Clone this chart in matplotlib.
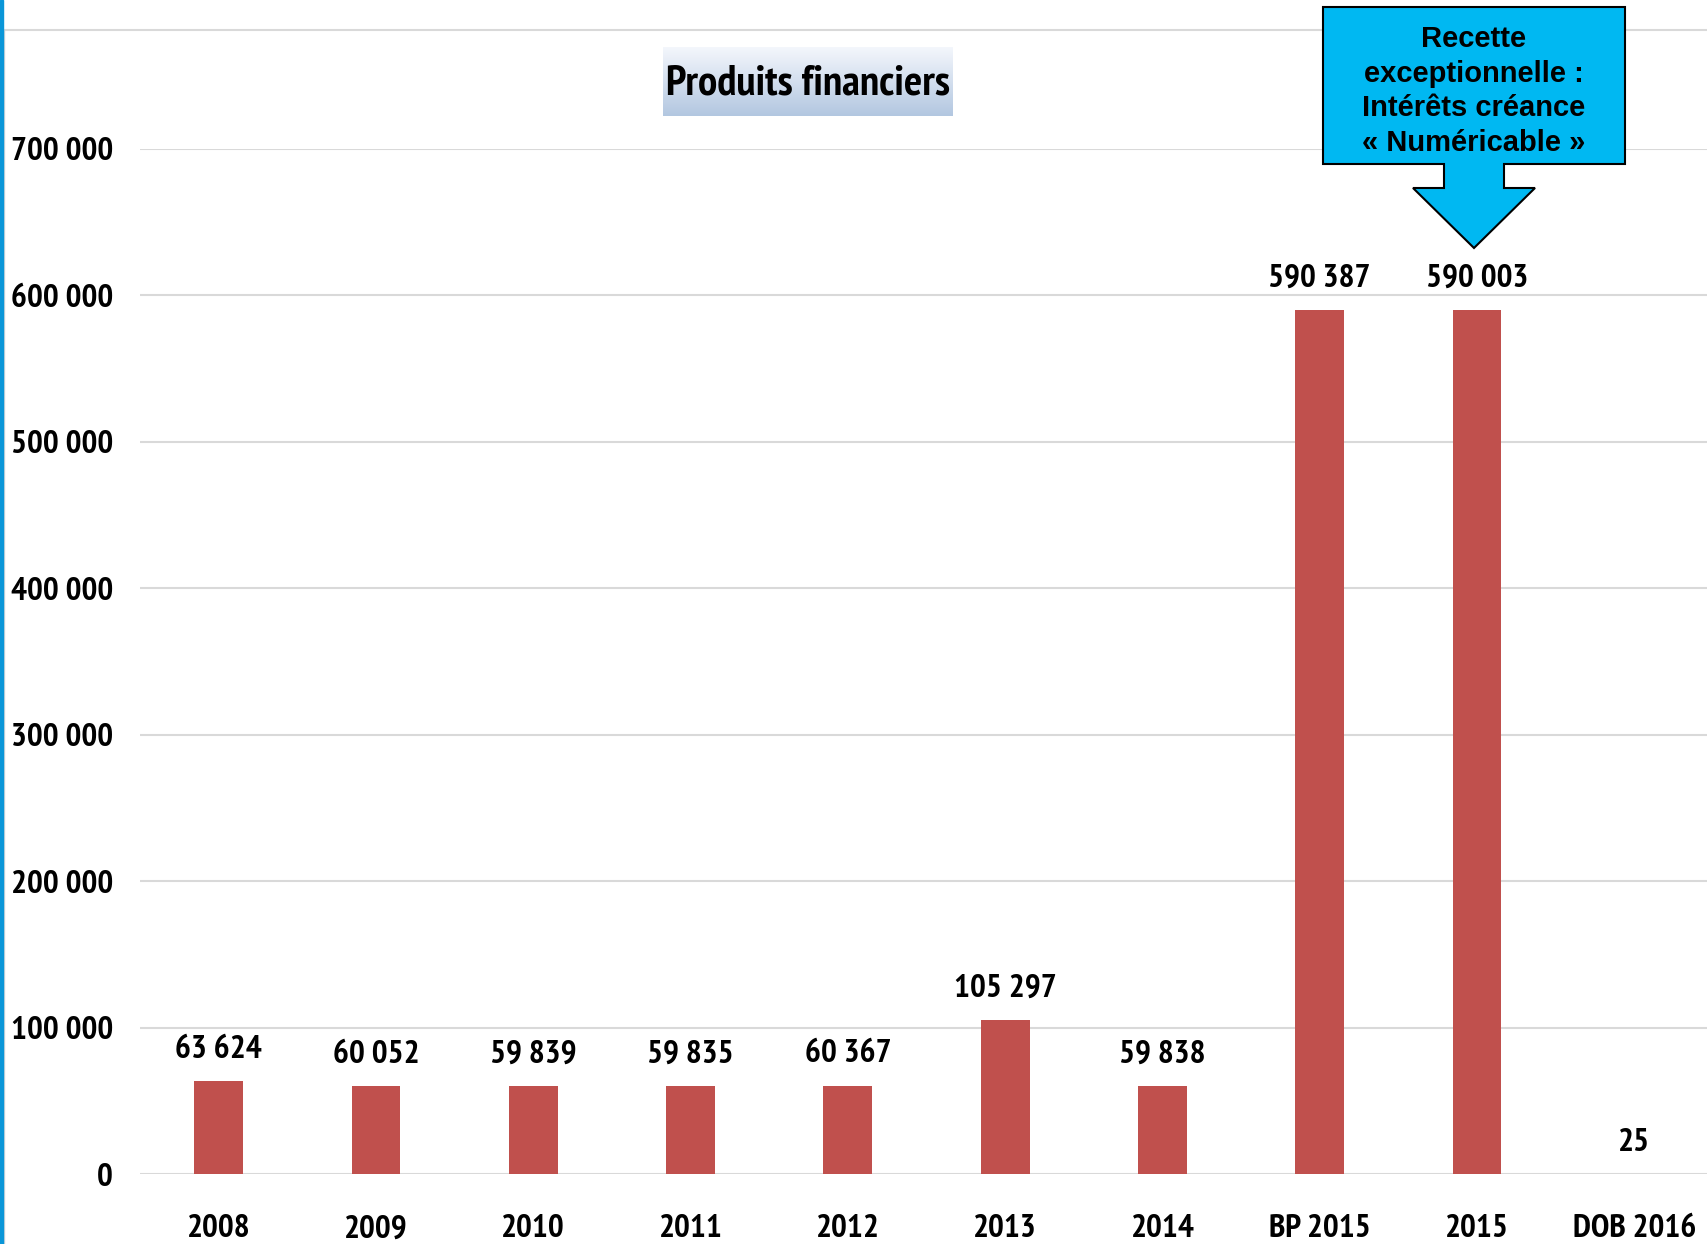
import numpy as np
import matplotlib.pyplot as plt
from matplotlib.patches import Polygon, Rectangle
from matplotlib.lines import Line2D

# Produits financiers par exercice
categories = ["2008", "2009", "2010", "2011", "2012", "2013", "2014", "BP 2015", "2015", "DOB 2016"]
values = [63624, 60052, 59839, 59835, 60367, 105297, 59838, 590387, 590003, 25]
y_ticks = [0, 100000, 200000, 300000, 400000, 500000, 600000, 700000]

W, H = 1708, 1244
narrow = ["PT Sans Narrow", "DejaVu Sans"]
arial = ["Liberation Sans", "DejaVu Sans"]
label_size = 24

def fx(px):
    return px / W

def fy(py):
    return 1 - py / H

def fmt(v):
    return f"{v:,}".replace(",", " ")

fig = plt.figure(figsize=(W / 100, H / 100), dpi=100)
fig.patch.set_facecolor("white")

# chart frame: blue strip on the left, light border on top
fig.add_artist(Rectangle((0, 0), fx(3), 1, transform=fig.transFigure,
                         color="#0A96D8", zorder=5))
fig.add_artist(Line2D([fx(3), 1], [fy(30), fy(30)], transform=fig.transFigure,
                      color="#D9D9D9", lw=1.5))
fig.add_artist(Line2D([fx(4), fx(4)], [fy(30), 0], transform=fig.transFigure,
                      color="#D9D9D9", lw=1.0))

ax = fig.add_axes([fx(140), fy(1174), fx(1713 - 140), (1174 - 149) / H])
x = np.arange(len(categories))
ax.bar(x, values, width=0.31, color="#C0504D", zorder=3)

ax.set_xlim(-0.5, len(categories) - 0.5)
ax.set_ylim(0, 700000)
ax.set_yticks(y_ticks)
ax.set_yticklabels([fmt(v) for v in y_ticks], family=narrow, fontsize=label_size, fontweight="bold")
ax.set_xticks(x)
ax.set_xticklabels(categories, family=narrow, fontsize=label_size, fontweight="bold")
ax.tick_params(axis="y", length=0, pad=19.5)
ax.tick_params(axis="x", length=0, pad=29)
ax.grid(axis="y", color="#D9D9D9", lw=1.5, zorder=0)
for s in ax.spines.values():
    s.set_visible(False)
ax.set_facecolor("none")

for xi, v in zip(x, values):
    ax.annotate(fmt(v), (xi, v), xytext=(0, 22.5), textcoords="offset points",
                ha="center", va="center", family=narrow, fontsize=label_size,
                fontweight="bold", annotation_clip=False)

# title box with a soft blue gradient
tax = fig.add_axes([fx(663), fy(116), fx(953 - 663), (116 - 47) / H])
grad = np.linspace(0, 1, 100).reshape(-1, 1)
top = np.array([0.96, 0.97, 0.99])
bottom = np.array([0.70, 0.78, 0.88])
img = top + (bottom - top) * grad[:, :, None]
tax.imshow(img, aspect="auto", extent=[0, 1, 0, 1], origin="upper")
tax.axis("off")
tax.text(0.5, 0.47, "Produits financiers", ha="center", va="center",
         family=narrow, fontsize=31, fontweight="bold", transform=tax.transAxes)

# callout arrow pointing at the 2015 bar
pts = [(1323, 7), (1625, 7), (1625, 164), (1504, 164), (1504, 188), (1535, 188),
       (1474, 248), (1413, 188), (1444, 188), (1444, 164), (1323, 164)]
fig.add_artist(Polygon([(fx(a), fy(b)) for a, b in pts], closed=True,
                       transform=fig.transFigure, facecolor="#00B8F2",
                       edgecolor="black", lw=1.5, zorder=6))
fig.text(fx(1474), fy(91), "Recette\nexceptionnelle :\nIntérêts créance\n« Numéricable »",
         ha="center", va="center", family=arial, fontsize=21, fontweight="bold",
         linespacing=1.3, zorder=7)

fig.savefig("out.png", dpi=100)
